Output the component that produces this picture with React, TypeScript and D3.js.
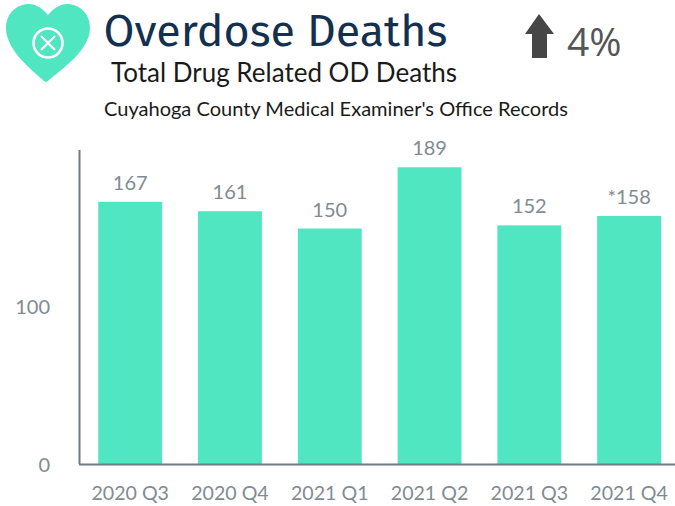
import React from "react";
import * as d3 from "d3";

const categories = ["2020 Q3", "2020 Q4", "2021 Q1", "2021 Q2", "2021 Q3", "2021 Q4"];
const values = [167, 161, 150, 189, 152, 158];
const valueLabels = ["167", "161", "150", "189", "152", "*158"];
const yTicks = [0, 100];
const title = "Overdose Deaths";
const subtitle = "Total Drug Related OD Deaths";
const source = "Cuyahoga County Medical Examiner's Office Records";
const change = "4%";

const W = 675, H = 506;
const TEAL = "#50e6c2";
const GREY = "#7f8b93";

export default function App() {
  const x = d3.scaleBand<string>().domain(categories).range([80.3, 679]).paddingInner(0.36).paddingOuter(0.18);
  const y = d3.scaleLinear().domain([0, 100]).range([464, 307]);
  const font = "Lato, sans-serif";
  const heart = "M44 81 C36 73 6 52 6 28 C6 13 17 4 29 4 C36 4 42 8 48 15 C54 8 60 4 67 4 C79 4 90 13 90 28 C90 52 56 73 48 81 Q46 83 44 81 Z";
  return (
    <svg width={W} height={H} viewBox={`0 0 ${W} ${H}`} style={{ position: "absolute", left: 0, top: 0, background: "#fff" }}>
      <path d={heart} fill={TEAL} />
      <circle cx={48} cy={43} r={14.5} fill="none" stroke="#fff" strokeWidth={2.5} />
      <path d="M41 36 L55 50 M55 36 L41 50" stroke="#fff" strokeWidth={2.2} />
      <text x={103.5} y={46} fontFamily="'Fira Sans','Open Sans',sans-serif" fontSize={44.8} fill="#14304f">{title}</text>
      <text x={111} y={82} fontFamily={font} fontSize={26} fill="#1a1a1a">{subtitle}</text>
      <text x={104} y={116} fontFamily={font} fontSize={20.05} fill="#1a1a1a">{source}</text>
      <path d="M525 34 L539 14 L554 34 L547 34 L547 58 L532 58 L532 34 Z" fill="#464646" />
      <text x={567} y={56} fontFamily="'Open Sans',sans-serif" fontSize={39} fill="#555">{change}</text>

      {categories.map((c, i) => (
        <g key={c}>
          <rect x={x(c)} y={y(values[i])} width={x.bandwidth()} height={y(0) - y(values[i])} fill={TEAL} />
          <text x={x(c)! + x.bandwidth() / 2} y={y(values[i]) - 12} textAnchor="middle" fontFamily={font} fontSize={20} fill={GREY}>{valueLabels[i]}</text>
          <text x={x(c)! + x.bandwidth() / 2} y={500} textAnchor="middle" fontFamily={font} fontSize={19.6} fill={GREY}>{c}</text>
        </g>
      ))}
      <line x1={79.5} x2={79.5} y1={150} y2={464} stroke="#6f7c86" strokeWidth={2} />
      <line x1={79} x2={675} y1={464.5} y2={464.5} stroke="#6f7c86" strokeWidth={2} />
      {yTicks.map((t) => (
        <text key={t} x={50} y={y(t) + (t === 0 ? 8 : 7)} textAnchor="end" fontFamily={font} fontSize={20} fill={GREY}>{t}</text>
      ))}
    </svg>
  );
}
